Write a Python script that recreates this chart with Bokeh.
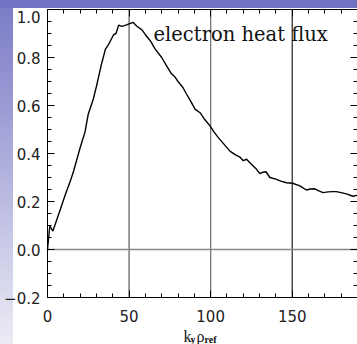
from bokeh.plotting import figure
from bokeh.models import LinearAxis, SingleIntervalTicker, FixedTicker, Label, Range1d
from bokeh.embed import file_html
from bokeh.resources import INLINE

k_y = [0, 1.4, 3.3, 5, 8, 11, 14, 16, 20, 23, 25, 28, 30, 33, 35.5, 37.5, 40.5, 42,
       43.6, 45.6, 48, 50, 52.5, 54.8, 57.9, 60, 63, 66, 70, 73, 76, 78, 80, 83, 85,
       88, 90.4, 93.5, 96, 99.6, 102, 104.7, 108, 111.8, 115, 117.9, 120, 122, 125,
       128, 130.2, 132, 133.9, 136.3, 140.4, 143, 146.5, 150.2, 154.7, 158.7, 161,
       163.8, 166, 168.9, 172, 175, 177, 180, 183.2, 187.2, 190]
heat_flux = [0.0, 0.098, 0.077, 0.11, 0.17, 0.23, 0.285, 0.327, 0.424, 0.49, 0.565,
             0.625, 0.68, 0.77, 0.835, 0.855, 0.895, 0.90, 0.935, 0.93, 0.935, 0.94,
             0.946, 0.93, 0.915, 0.895, 0.87, 0.835, 0.80, 0.765, 0.732, 0.72, 0.70,
             0.675, 0.65, 0.615, 0.585, 0.57, 0.545, 0.515, 0.49, 0.466, 0.44, 0.41,
             0.395, 0.385, 0.37, 0.376, 0.355, 0.335, 0.316, 0.322, 0.324, 0.30, 0.292,
             0.285, 0.278, 0.276, 0.265, 0.248, 0.252, 0.253, 0.245, 0.237, 0.24,
             0.241, 0.241, 0.237, 0.232, 0.222, 0.226]
vlines = [50, 100, 150]
x_ticks = [0, 50, 100, 150]
y_ticks = [-0.2, 0.0, 0.2, 0.4, 0.6, 0.8, 1.0]
y_minor_ticks = [round(-0.2 + 0.05 * i, 2) for i in range(25)]
y_tick_labels = ["\u22120.2", "0.0", "0.2", "0.4", "0.6", "0.8", "1.0"]
title_text = "electron heat flux"
x_label_parts = ["k", "y", "\u03c1", "ref"]

x_lo, x_hi = 0, 190
y_lo, y_hi = y_ticks[0], y_ticks[-1]
px_per_y = 240.0
px_per_x = 310.0 / (x_hi - x_lo)
x_start = x_lo - 47 / px_per_x     # room left of the y axis for its labels
y_start = y_lo - 47 / px_per_y     # room below the x axis for its labels

p = figure(width=357, height=344, output_backend="svg", toolbar_location=None,
           x_range=Range1d(x_start, x_hi), y_range=Range1d(y_start, y_hi),
           min_border_left=0, min_border_right=0, min_border_top=9,
           min_border_bottom=0, x_axis_location=None, y_axis_location=None)
p.border_fill_color = None
p.background_fill_color = None
p.outline_line_color = None
p.grid.visible = False
p.styles = {"background": "linear-gradient(#7272c2,#7272c2) 0 0 / 100% 8px no-repeat, "
                          "linear-gradient(to bottom,#7a7ac6,#9a9ad4 30%,#ececf6) 0 0 / 13px 100% no-repeat, "
                          "white"}

font = "DejaVu Sans"
label_color = "#222222"

def style_axis(ax, show, ticks):
    ax.axis_line_color = "black"
    ax.axis_line_width = 1
    ax.major_tick_in = 7
    ax.major_tick_out = 0
    ax.minor_tick_in = 4
    ax.minor_tick_out = 0
    ax.major_tick_line_color = "black"
    ax.minor_tick_line_color = "black"
    ax.major_label_text_font = font
    ax.major_label_text_font_size = "15px"
    ax.major_label_text_color = label_color
    if not show:
        ax.major_label_overrides = {t: "" for t in ticks}
        ax.major_label_standoff = 0

xb = LinearAxis(ticker=SingleIntervalTicker(interval=50, num_minor_ticks=5),
                fixed_location=y_lo, bounds=(x_lo, x_hi))
style_axis(xb, True, x_ticks)
xb.major_label_standoff = 12
p.add_layout(xb, "below")
xt = LinearAxis(ticker=SingleIntervalTicker(interval=50, num_minor_ticks=5),
                bounds=(x_lo, x_hi))
style_axis(xt, False, x_ticks)
p.add_layout(xt, "above")

yl = LinearAxis(ticker=FixedTicker(ticks=y_ticks, minor_ticks=y_minor_ticks),
                fixed_location=x_lo, bounds=(y_lo, y_hi))
style_axis(yl, True, y_ticks)
yl.major_label_standoff = 7
# the top label sits just below its tick (as in the original), drawn as a Label
yl.major_label_overrides = {t: (s if t != y_hi else "") for t, s in zip(y_ticks, y_tick_labels)}
p.add_layout(yl, "left")
yr = LinearAxis(ticker=FixedTicker(ticks=y_ticks, minor_ticks=y_minor_ticks),
                fixed_location=x_hi, bounds=(y_lo, y_hi))
style_axis(yr, False, y_ticks)
p.add_layout(yr, "right")

p.add_layout(Label(x=x_lo, y=y_hi, x_offset=-7, y_offset=-1, text=y_tick_labels[-1],
                   text_font=font, text_font_size="15px", text_color=label_color,
                   text_align="right", text_baseline="top"))

vcolors = ["#666666", "#777777", "#333333"]
p.segment(x0=vlines, y0=[y_lo] * 3, x1=vlines, y1=[y_hi] * 3,
          line_color=vcolors, line_width=1.3)
p.segment(x0=[x_lo], y0=[0], x1=[x_hi], y1=[0], line_color="#888888", line_width=1.5)

p.line(k_y, heat_flux, line_color="black", line_width=1.4)

p.add_layout(Label(x=65, y=0.896, text=title_text, text_font="DejaVu Serif",
                   text_font_size="19.5px", text_color="#111111", text_baseline="alphabetic"))

serif = "Liberation Serif"
part_pos = [(83.4, -0.3625), (87.6, -0.375), (91.3, -0.3625), (96.2, -0.373)]
part_size = ["16px", "10px", "16px", "10px"]
for (x, y), t, s in zip(part_pos, x_label_parts, part_size):
    p.add_layout(Label(x=x, y=y, text=t, text_font=serif, text_font_size=s,
                       text_color="#111111", text_baseline="alphabetic",
                       text_font_style="bold" if s == "10px" else "normal"))

open("out.html", "w").write(file_html(p, INLINE))
